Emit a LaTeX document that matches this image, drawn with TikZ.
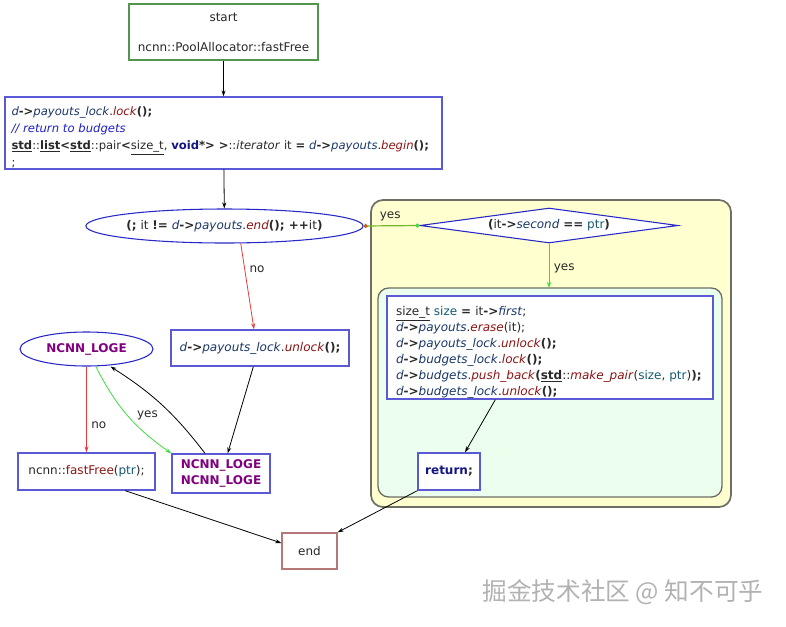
\documentclass[tikz,border=0pt]{standalone}
\usepackage{fontspec}
\setmainfont{DejaVu Sans}
\newfontfamily\cjkfont{Noto Sans CJK SC}
\usetikzlibrary{shapes.geometric,arrows.meta}
\definecolor{boxblue}{RGB}{90,90,215}
\definecolor{ellblue}{RGB}{40,40,200}
\definecolor{startgreen}{RGB}{80,150,80}
\definecolor{endrose}{RGB}{180,120,120}
\definecolor{varblue}{RGB}{25,55,105}
\definecolor{fnred}{RGB}{140,20,20}
\definecolor{cmtblue}{RGB}{30,30,200}
\definecolor{ptrteal}{RGB}{20,90,110}
\definecolor{kwnavy}{RGB}{20,20,130}
\definecolor{logpurple}{RGB}{128,0,128}
\definecolor{txt}{RGB}{40,40,40}
\definecolor{nored}{RGB}{230,60,60}
\definecolor{yesgreen}{RGB}{60,220,60}
\definecolor{olivegreen}{RGB}{120,180,40}
\definecolor{dotorange}{RGB}{200,90,20}
\definecolor{yellowbg}{RGB}{255,255,208}
\definecolor{mintbg}{RGB}{236,255,238}
\definecolor{frame}{RGB}{110,110,100}
\def\vd#1{\textcolor{varblue}{\textit{#1}}}
\def\fn#1{\textcolor{fnred}{\textit{#1}}}
\def\kw#1{\textbf{#1}}
\def\ud#1{\underline{#1}}
\def\ar{\textbf{->}}
\def\ptr{\textcolor{ptrteal}{ptr}}

\begin{document}
\begin{tikzpicture}[x=0.75pt,y=-0.75pt,
    box/.style={draw=boxblue,line width=1pt,fill=white,text=txt,
      font=\fontsize{9}{12.75}\selectfont},
    oval/.style={ellipse,draw=ellblue,line width=0.8pt,fill=white,text=txt,
      inner sep=0pt,font=\fontsize{9}{12}\selectfont},
    flow/.style={-{Stealth[length=4.5pt,width=3pt]},line width=0.6pt},
    lbl/.style={text=txt,font=\fontsize{9}{11}\selectfont}]
    \useasboundingbox (0,0) rectangle (786,626);
    % containers
    \draw[frame,line width=1.3pt,fill=yellowbg,rounded corners=9pt] (371,200) rectangle (731,507);
    \draw[frame,line width=1pt,fill=mintbg,rounded corners=8pt] (378,288) rectangle (722,497);
    \coordinate (inTop) at (549,288);
    % nodes
    \node[box,draw=startgreen,align=center,minimum width=141.75pt,minimum height=42pt]
      (start) at (223.5,32) {start\\[9.75pt]ncnn::PoolAllocator::fastFree};
    \node[box,text width=318pt,align=left,inner xsep=4.9pt,inner ysep=0pt,minimum height=54pt,
      font=\fontsize{8.7}{12.75}\selectfont] (lock) at (223.5,133)
      {\rule{0pt}{12.9pt}\vd{d}\ar\vd{payouts\_lock}.\fn{lock}\kw{();}\\
       \textcolor{cmtblue}{\textit{// return to budgets}}\\
       \kw{\ud{std}}::\kw{\ud{list}}\kw{<}\kw{\ud{std}}::pair\kw{<}\ud{size\_t}, \textcolor{kwnavy}{\kw{void}}\kw{*> >}::\textit{iterator} it \kw{=} \mbox{\vd{d}\ar\vd{payouts}.\fn{begin}\kw{();}}\\
       ;};
    \node[oval,minimum width=207.75pt,minimum height=25.5pt] (loop) at (224.5,226)
      {\kw{(;} it \kw{!=} \vd{d}\ar\vd{payouts}.\fn{end}\kw{(); ++}it\kw{)}};
    \node[diamond,draw=ellblue,line width=0.8pt,fill=white,text=txt,inner sep=0pt,shape aspect=7.4,
      minimum width=193.5pt,minimum height=26.25pt,font=\fontsize{9}{12}\selectfont] (cond) at (549,225.5)
      {\kw{(}it\ar\vd{second} \kw{==} \ptr\kw{)}};
    \node[box,text width=231pt,align=left,inner xsep=6.75pt,inner ysep=0pt,minimum height=77.25pt,
      font=\fontsize{9}{12}\selectfont] (code) at (550,347.5)
      {\rule{0pt}{13.6pt}\ud{size\_t} \textcolor{ptrteal}{size} \kw{=} it\ar\vd{first};\\
       \vd{d}\ar\vd{payouts}.\fn{erase}(it);\\
       \vd{d}\ar\vd{payouts\_lock}.\fn{unlock}\kw{();}\\
       \vd{d}\ar\vd{budgets\_lock}.\fn{lock}\kw{();}\\
       \vd{d}\ar\vd{budgets}.\fn{push\_back}\kw{(}\kw{\ud{std}}::\fn{make\_pair}(\textcolor{ptrteal}{size}, \ptr)\kw{);}\\
       \vd{d}\ar\vd{budgets\_lock}.\fn{unlock}\kw{();}};
    \node[box,minimum width=46.5pt,minimum height=27.75pt] (ret) at (449,471.5)
      {\textcolor{kwnavy}{\kw{return}}\kw{;}};
    \node[box,draw=endrose,minimum width=41.25pt,minimum height=27pt] (end) at (309.5,551) {end};
    \node[box,minimum width=133.5pt,minimum height=27pt] (unlock) at (260,348)
      {\vd{d}\ar\vd{payouts\_lock}.\fn{unlock}\kw{();}};
    \node[box,align=center,minimum width=73.5pt,minimum height=29.25pt,
      font=\fontsize{9}{12}\selectfont\bfseries,text=logpurple] (logbox) at (221,473.5)
      {NCNN\_LOGE\\NCNN\_LOGE};
    \node[oval,minimum width=99.75pt,minimum height=25.5pt,text=logpurple,font=\fontsize{9}{12}\selectfont\bfseries]
      (loge) at (86.5,349) {NCNN\_LOGE};
    \node[box,minimum width=102.75pt,minimum height=27.75pt] (fast) at (86.5,471.5)
      {ncnn::\textcolor{fnred}{fastFree}(\ptr);};
    % edges
    \draw[flow] (start) -- (lock);
    \draw[flow] (lock) -- (loop);
    \draw[olivegreen,line width=0.9pt,{Circle[length=3pt,color=dotorange]}-{Circle[length=3pt,color=yesgreen]}]
      (loop.east) -- node[lbl,above,xshift=-1pt]{yes} (cond.west);
    \draw[flow,yesgreen] (cond.south) -- node[lbl,right,pos=0.55]{yes} (inTop);
    \draw[flow,nored] (loop.-47) -- node[lbl,right,pos=0.3]{no} ([xshift=-4.5pt]unlock.north);
    \draw[flow] ([xshift=-5pt]unlock.south) -- ([xshift=5pt]logbox.north);
    \draw[flow,nored] (loge.south) -- node[lbl,right,pos=0.68]{no} (fast.north);
    \draw[flow,yesgreen] ([xshift=7pt]loge.south) to[bend right=14] node[lbl,above right,pos=0.62,xshift=-3pt]{yes} (logbox.north west);
    \draw[flow] ([xshift=-12pt]logbox.north) to[bend right=10] ([xshift=18pt]loge.south);
    \draw[flow] ([xshift=29pt]fast.south) -- ([yshift=6pt]end.west);
    \draw[flow] ([xshift=-41pt]code.south) -- ([xshift=12pt]ret.north);
    \draw[flow] (ret.south west) -- (end.north east);
    % watermark
    \node[text=gray!60,font=\cjkfont\fontsize{18.5}{20}\selectfont] (mark) at (623,592) {掘金技术社区 @ 知不可乎};
\end{tikzpicture}
\end{document}
